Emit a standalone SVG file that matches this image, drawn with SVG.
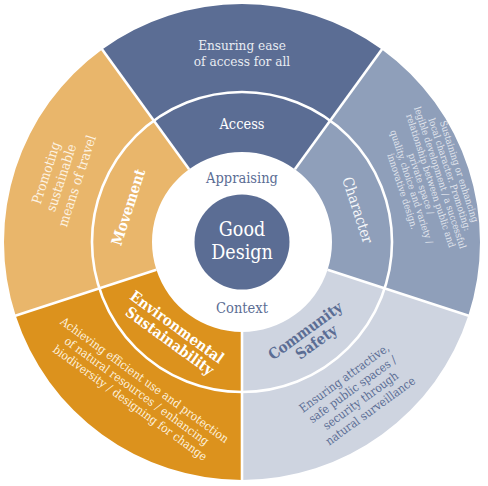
<svg xmlns="http://www.w3.org/2000/svg" width="488" height="486" viewBox="0 0 488 486">
<style>
text{font-family:"DejaVu Serif Condensed","DejaVu Serif","Liberation Serif",serif;text-anchor:middle}
.sep{stroke:#fff;stroke-width:2.6;fill:none}
.lt{fill:#ffffff}
.dk{fill:#5b6d94}
.b{font-weight:bold}
</style>
<rect width="488" height="486" fill="#fff"/>
<g id="access">
<path d="M 189.10 169.19 L 102.11 49.45 A 238 238 0 0 1 381.89 49.45 L 294.90 169.19 A 90 90 0 0 0 189.10 169.19 Z" fill="#5b6d94"/>
</g>
<g id="character">
<path d="M 294.90 169.19 L 381.89 49.45 A 238 238 0 0 1 468.35 315.55 L 327.60 269.81 A 90 90 0 0 0 294.90 169.19 Z" fill="#8f9fba"/>
</g>
<g id="community-safety">
<path d="M 327.60 269.81 L 468.35 315.55 A 238 238 0 0 1 242 480 L 242 332 A 90 90 0 0 0 327.60 269.81 Z" fill="#ced4e0"/>
</g>
<g id="environmental-sustainability">
<path d="M 242 332 L 242 480 A 238 238 0 0 1 15.65 315.55 L 156.40 269.81 A 90 90 0 0 0 242 332 Z" fill="#dc921d"/>
</g>
<g id="movement">
<path d="M 156.40 269.81 L 15.65 315.55 A 238 238 0 0 1 102.11 49.45 L 189.10 169.19 A 90 90 0 0 0 156.40 269.81 Z" fill="#e9b66b"/>
</g>
<g id="separators">
<circle cx="242" cy="242" r="150" class="sep"/>
<line x1="189.10" y1="169.19" x2="100.93" y2="47.83" class="sep"/>
<line x1="294.90" y1="169.19" x2="383.07" y2="47.83" class="sep"/>
<line x1="327.60" y1="269.81" x2="470.25" y2="316.17" class="sep"/>
<line x1="242" y1="332" x2="242" y2="482" class="sep"/>
<line x1="156.40" y1="269.81" x2="13.75" y2="316.17" class="sep"/>
</g>
<g id="center">
<circle cx="242" cy="242" r="47.5" fill="#5b6d94"/>
<text x="242" y="236" font-size="19.5" class="lt">Good</text>
<text x="242" y="259" font-size="19.5" class="lt">Design</text>
<text x="242" y="182.5" font-size="14.5" class="dk">Appraising</text>
<text x="242" y="313" font-size="14.5" class="dk">Context</text>
</g>
<g id="access-labels">
<text x="242" y="128.5" font-size="14.5" class="lt">Access</text>
<text x="242" y="50" font-size="13.5" fill="#e8ecf2">Ensuring ease</text>
<text x="242" y="65.5" font-size="13.5" fill="#e8ecf2">of access for all</text>
</g>
<g id="character-labels">
<text transform="translate(358,210) rotate(72)" y="5.5" font-size="15" fill="#f4f6f9">Character</text>
<text transform="translate(431,182) rotate(72)" font-size="9.5" fill="#e2e6ee">
<tspan x="0" y="-26.8">Sustaining or enhancing</tspan>
<tspan x="0" y="-16.8">local character. Promoting:</tspan>
<tspan x="0" y="-6.8">legible development / a successful</tspan>
<tspan x="0" y="3.2">relationship between public and</tspan>
<tspan x="0" y="13.2">private space /</tspan>
<tspan x="0" y="23.2">quality, choice and variety /</tspan>
<tspan x="0" y="33.2">innovative design.</tspan>
</text>
</g>
<g id="community-labels">
<text transform="translate(312,336) rotate(-36)" font-size="15" class="dk b">
<tspan x="0" y="-3">Community</tspan>
<tspan x="0" y="12.5">Safety</tspan>
</text>
<text transform="translate(358,394) rotate(-36)" font-size="11.8" class="dk">
<tspan x="0" y="-17">Ensuring attractive,</tspan>
<tspan x="0" y="-3">safe public spaces /</tspan>
<tspan x="0" y="11">security through</tspan>
<tspan x="0" y="25">natural surveillance</tspan>
</text>
</g>
<g id="environmental-labels">
<text transform="translate(174,335) rotate(36)" font-size="15" class="lt b">
<tspan x="0" y="-3">Environmental</tspan>
<tspan x="0" y="12.5">Sustainability</tspan>
</text>
<text transform="translate(138,392) rotate(36)" font-size="11.8" fill="#fdf1de">
<tspan x="0" y="-9.5">Achieving efficient use and protection</tspan>
<tspan x="0" y="4">of natural resources / enhancing</tspan>
<tspan x="0" y="17.5">biodiversity / designing for change</tspan>
</text>
</g>
<g id="movement-labels">
<text transform="translate(128,207) rotate(-72)" y="5.5" font-size="15" class="lt b">Movement</text>
<text transform="translate(62,176) rotate(-72)" font-size="13.5" fill="#fdf3e3">
<tspan x="0" y="-11.5">Promoting</tspan>
<tspan x="0" y="4.5">sustainable</tspan>
<tspan x="0" y="20.5">means of travel</tspan>
</text>
</g>
</svg>
